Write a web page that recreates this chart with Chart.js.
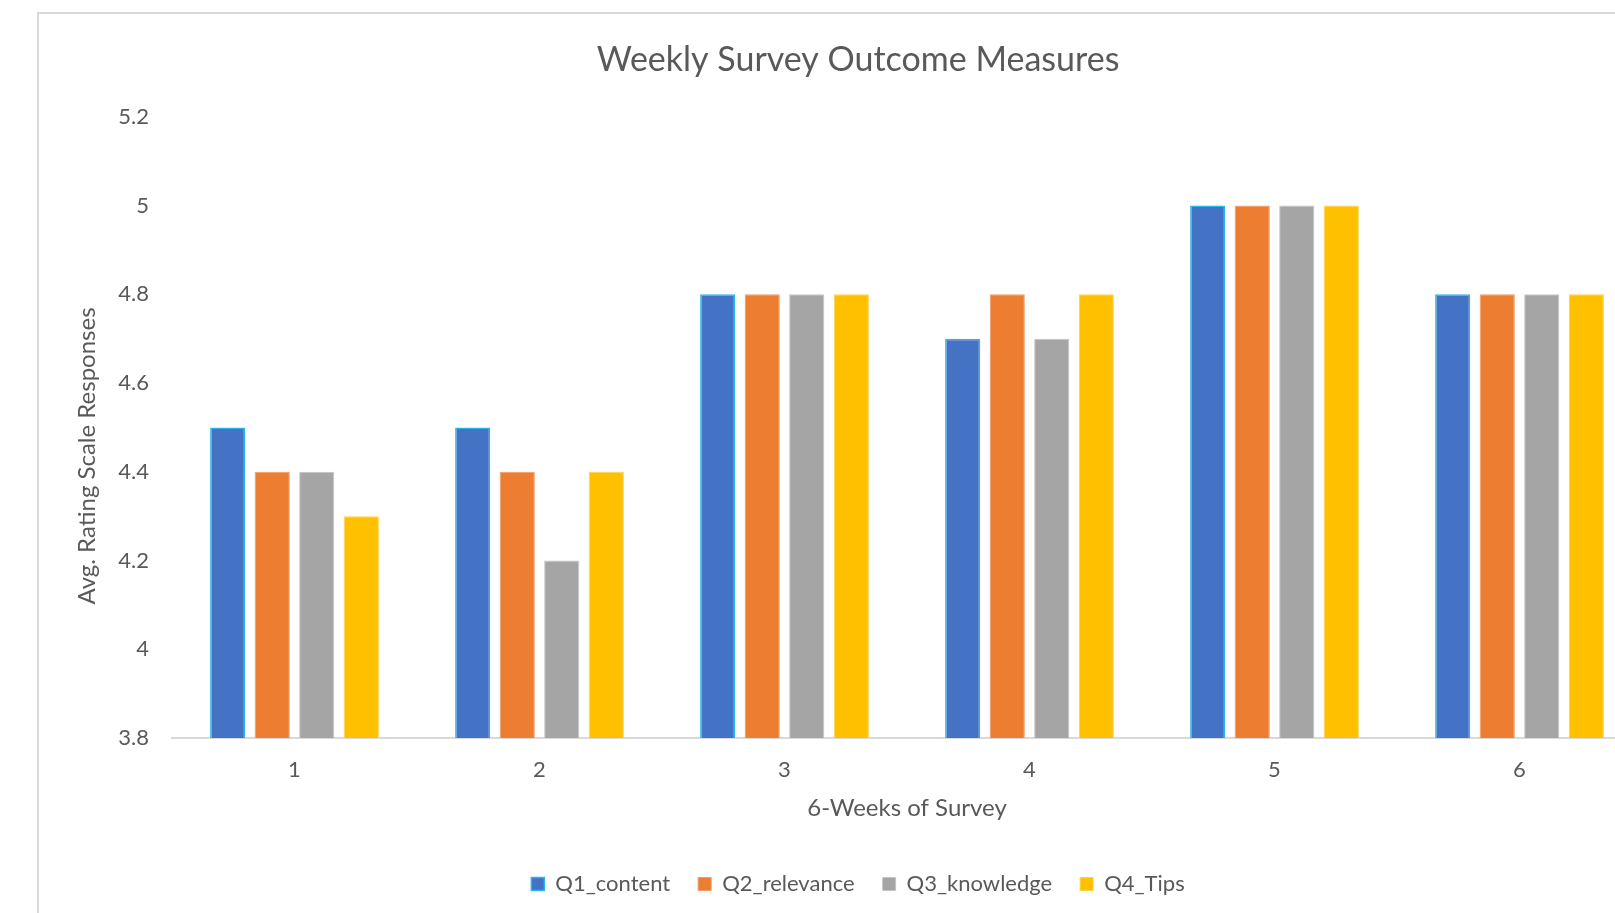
<!DOCTYPE html>
<html>
<head>
<meta charset="utf-8">
<script src="https://cdn.jsdelivr.net/npm/chart.js@4"></script>
<style>
  html, body { margin: 0; padding: 0; background: #fff; overflow: hidden; width: 1615px; height: 913px; }
  #box { position: absolute; left: 37px; top: 12px; border: 2px solid #d9d9d9; width: 1638px; height: 920px; }
  canvas { display: block; }
</style>
</head>
<body>
<div id="box"><canvas id="chartId" width="1638" height="920"></canvas></div>
<script>
const weeks = ['1', '2', '3', '4', '5', '6'];
const q1Content = [4.5, 4.5, 4.8, 4.7, 5, 4.8];
const q2Relevance = [4.4, 4.4, 4.8, 4.8, 5, 4.8];
const q3Knowledge = [4.4, 4.2, 4.8, 4.7, 5, 4.8];
const q4Tips = [4.3, 4.4, 4.8, 4.8, 5, 4.8];
const yTicks = [3.8, 4, 4.2, 4.4, 4.6, 4.8, 5, 5.2];

const textColor = '#595959';
const fontFamily = 'Lato, "Open Sans", sans-serif';

Chart.defaults.font.family = fontFamily;
Chart.defaults.color = textColor;

var chrt = document.getElementById('chartId').getContext('2d');

function ds(label, data, fill, border, bw) {
  return {
    label: label,
    data: data,
    backgroundColor: fill,
    borderColor: border,
    borderWidth: bw,
    categoryPercentage: 0.727,
    barPercentage: 0.79
  };
}

// y axis title sits a bit below the middle of the plot, like in Excel
const yTitlePlugin = {
  id: 'yTitle',
  afterDraw(chart) {
    const ctx = chart.ctx;
    ctx.save();
    ctx.translate(48.5, 442);
    ctx.rotate(-Math.PI / 2);
    ctx.font = '24px ' + fontFamily;
    ctx.fillStyle = textColor;
    ctx.textAlign = 'center';
    ctx.textBaseline = 'middle';
    ctx.fillText('Avg. Rating Scale Responses', 0, 0);
    ctx.restore();
  }
};

let chartConfig = {
  type: 'bar',
  data: {
    labels: weeks,
    datasets: [
      ds('Q1_content', q1Content, '#4472c4', '#2bb6ea', 1.5),
      ds('Q2_relevance', q2Relevance, '#ed7d31', '#f29a66', 1),
      ds('Q3_knowledge', q3Knowledge, '#a5a5a5', '#c4c4c4', 1),
      ds('Q4_Tips', q4Tips, '#ffc000', '#ffd24d', 1)
    ]
  },
  options: {
    responsive: false,
    animation: false,
    layout: { padding: { left: 0, right: 0, top: 0, bottom: 29 } },
    plugins: {
      title: {
        display: true,
        text: 'Weekly Survey Outcome Measures',
        color: textColor,
        font: { size: 34, weight: 'normal' },
        padding: { top: 26, bottom: 36 }
      },
      legend: {
        position: 'bottom',
        labels: {
          color: textColor,
          font: { size: 22 },
          boxWidth: 13,
          boxHeight: 13,
          padding: 28
        }
      },
      tooltip: { enabled: false }
    },
    scales: {
      x: {
        grid: { display: false, drawTicks: false },
        border: { display: true, color: '#d9d9d9', width: 2 },
        ticks: { color: textColor, font: { size: 22 }, padding: 19 },
        title: {
          display: true,
          text: '6-Weeks of Survey',
          color: textColor,
          font: { size: 24 },
          padding: { top: 12, bottom: 22 }
        },
        afterFit: function (scale) { scale.height = 107; }
      },
      y: {
        min: 3.8,
        max: 5.2,
        grid: { display: false, drawTicks: false },
        border: { display: false },
        afterBuildTicks: function (scale) {
          scale.ticks = yTicks.map(v => ({ value: v }));
        },
        ticks: {
          color: textColor,
          font: { size: 22 },
          padding: 23,
          callback: function (value) { return String(value); }
        },
        afterFit: function (scale) { scale.width = 133; }
      },
      yRight: {
        position: 'right',
        display: true,
        grid: { display: false, drawTicks: false },
        border: { display: false },
        ticks: { display: false },
        afterFit: function (scale) { scale.width = 35; }
      }
    }
  },
  plugins: [yTitlePlugin]
};

window.barChart = new Chart(chrt, chartConfig);
</script>
</body>
</html>
